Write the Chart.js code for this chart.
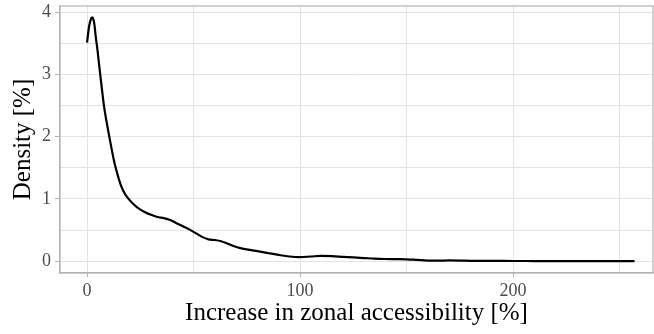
<!DOCTYPE html>
<html>
<head>
<meta charset="utf-8">
<script src="https://cdn.jsdelivr.net/npm/chart.js@4"></script>
<style>
  html, body { margin: 0; padding: 0; background: #fff; }
  #wrap { width: 654px; height: 334px; }
</style>
</head>
<body>
<div id="wrap"><canvas id="c" width="654" height="334"></canvas></div>
<script>
// Kernel density of the increase in zonal accessibility
const xValues = [0, 1, 2, 2.5, 3, 3.5, 4, 5, 6, 7, 8, 9, 10, 11, 12, 13, 14, 15, 16, 17, 18, 20, 22, 24, 27, 30, 33, 36, 39, 42, 45, 48, 51, 54, 57, 60, 63, 66, 69, 72, 75, 80, 85, 90, 95, 100, 105, 110, 115, 120, 125, 130, 135, 140, 145, 150, 155, 160, 165, 170, 175, 180, 190, 200, 210, 220, 230, 240, 250, 257];
const densityValues = [3.51, 3.78, 3.90, 3.915, 3.88, 3.79, 3.63, 3.36, 3.05, 2.76, 2.48, 2.27, 2.08, 1.90, 1.72, 1.56, 1.43, 1.31, 1.21, 1.13, 1.07, 0.98, 0.91, 0.85, 0.79, 0.745, 0.71, 0.69, 0.66, 0.61, 0.56, 0.51, 0.45, 0.39, 0.35, 0.34, 0.32, 0.28, 0.24, 0.21, 0.19, 0.16, 0.13, 0.10, 0.075, 0.065, 0.075, 0.085, 0.08, 0.07, 0.06, 0.05, 0.04, 0.035, 0.033, 0.03, 0.02, 0.01, 0.008, 0.012, 0.01, 0.006, 0.005, 0.003, 0.002, 0.001, 0.001, 0.001, 0.001, 0.001];
const xTickValues = [0, 50, 100, 150, 200, 250];
const xLabelled = [0, 100, 200];
const yTickValues = [0, 0.5, 1, 1.5, 2, 2.5, 3, 3.5, 4];
const yLabelled = [0, 1, 2, 3, 4];

const points = xValues.map((x, i) => ({ x: x, y: densityValues[i] }));

const serif = "'Liberation Serif', 'DejaVu Serif', serif";
const gridColor = '#e3e3e3';
const frameColor = '#b3b3b3';

const panelFrame = {
  id: 'panelFrame',
  afterDraw(chart) {
    const a = chart.chartArea, ctx = chart.ctx;
    ctx.save();
    ctx.strokeStyle = frameColor;
    ctx.lineWidth = 1.2;
    ctx.strokeRect(a.left, a.top, a.right - a.left, a.bottom - a.top);
    ctx.restore();
  }
};

// keep the panel edges fixed regardless of tick label overhang
function fitBox(size, key) {
  return s => {
    s[key] = size;
    s.paddingTop = 0; s.paddingBottom = 0;
    s.paddingLeft = 0; s.paddingRight = 0;
  };
}

new Chart(document.getElementById('c'), {
  type: 'line',
  data: {
    datasets: [{
      data: points,
      borderColor: '#000',
      borderWidth: 2.2,
      pointRadius: 0,
      cubicInterpolationMode: 'monotone',
      fill: false
    }]
  },
  options: {
    responsive: false,
    animation: false,
    layout: { padding: { top: 6, right: 1, left: 0, bottom: 0 } },
    plugins: { legend: { display: false }, tooltip: { enabled: false } },
    scales: {
      x: {
        type: 'linear',
        min: -12.7,
        max: 265.7,
        afterBuildTicks: s => { s.ticks = xTickValues.map(v => ({ value: v })); },
        afterFit: fitBox(61, 'height'),
        grid: {
          color: gridColor,
          lineWidth: 1,
          tickLength: 4,
          tickColor: c => xLabelled.includes(c.tick.value) ? frameColor : 'rgba(0,0,0,0)'
        },
        border: { color: frameColor, width: 1.2 },
        ticks: {
          autoSkip: false,
          maxRotation: 0,
          padding: 3,
          color: '#4d4d4d',
          font: { family: serif, size: 18 },
          callback: v => xLabelled.includes(v) ? String(v) : ''
        },
        title: {
          display: true,
          text: 'Increase in zonal accessibility [%]',
          color: '#000',
          font: { family: serif, size: 25 },
          padding: { top: 0, bottom: 6 }
        }
      },
      y: {
        type: 'linear',
        min: -0.19,
        max: 4.097,
        afterBuildTicks: s => { s.ticks = yTickValues.map(v => ({ value: v })); },
        afterFit: fitBox(60, 'width'),
        grid: {
          color: gridColor,
          lineWidth: 1,
          tickLength: 5,
          tickColor: c => yLabelled.includes(c.tick.value) ? frameColor : 'rgba(0,0,0,0)'
        },
        border: { color: frameColor, width: 1.2 },
        ticks: {
          autoSkip: false,
          padding: 4,
          color: '#4d4d4d',
          font: { family: serif, size: 18 },
          callback: v => yLabelled.includes(v) ? String(v) : ''
        },
        title: {
          display: true,
          text: 'Density [%]',
          color: '#000',
          font: { family: serif, size: 25 },
          padding: { top: 8, bottom: 0 }
        }
      }
    }
  },
  plugins: [panelFrame]
});
</script>
</body>
</html>
